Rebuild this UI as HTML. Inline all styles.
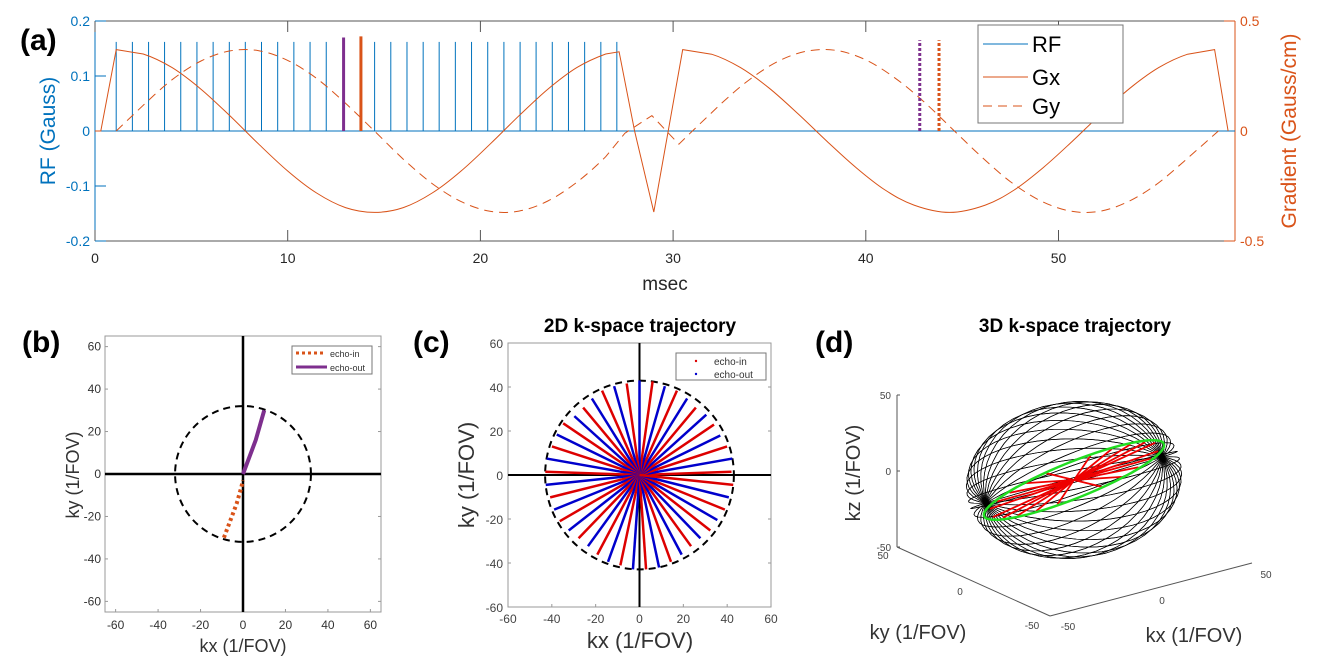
<!DOCTYPE html>
<html><head><meta charset="utf-8"><style>
html,body{margin:0;padding:0;background:#fff;}
svg{display:block;font-family:"Liberation Sans",sans-serif;}
</style></head><body>
<svg id="fig" width="1325" height="672" viewBox="0 0 1325 672" xmlns="http://www.w3.org/2000/svg">
<g id="pa"></g>
<g id="pb"></g>
<g id="pc"></g>
<g id="pd"></g>
</svg>
<script>
// ---------- Panel (a) data ----------
const rfTimes = [1.1,1.94,2.78,3.61,4.45,5.29,6.13,6.97,7.8,8.64,9.48,10.32,11.16,12.0,14.51,15.35,16.19,17.03,17.86,18.7,19.54,20.38,21.22,22.06,22.89,23.73,24.57,25.41,26.25,27.08];
const rfAmp = 0.162;
const gxT = [0,0.3,1.1,2.5,4,5.5,7,8.5,10,11.5,13,14.5,16,17.5,19,20.5,22,23.5,25,26.5,27.2,28.0,29.0,30.5,32,33.5,35,36.5,38,39.5,41,42.5,44.35,46.2,47.7,49.2,50.7,52.2,53.7,55.2,56.7,58.1,58.8];
const gxV = [0,0,0.37,0.35,0.288,0.19,0.069,-0.06,-0.182,-0.282,-0.348,-0.37,-0.348,-0.282,-0.182,-0.06,0.069,0.19,0.288,0.35,0.36,0.0,-0.368,0.37,0.349,0.288,0.194,0.077,-0.048,-0.167,-0.268,-0.337,-0.37,-0.337,-0.268,-0.167,-0.048,0.077,0.194,0.288,0.349,0.37,0];
const gyT = [1.1,2.5,4,5.5,7,8.5,10,11.5,13,14.5,16,17.5,19,20.5,22,23.5,25,26.5,27.5,28.9,30.3,31,32.5,34,35.5,37,38.5,40,41.5,43,44.6,46,47.5,49,50.5,52,53.5,55,56.5,58.3];
const gyV = [0,0.117,0.233,0.318,0.364,0.365,0.321,0.239,0.126,0,-0.128,-0.239,-0.321,-0.365,-0.364,-0.318,-0.233,-0.117,-0.01,0.07,-0.06,0,0.125,0.236,0.319,0.364,0.366,0.323,0.242,0.134,0,-0.117,-0.23,-0.314,-0.362,-0.367,-0.326,-0.248,-0.139,0];
const markT = [12.9,13.8,42.8,43.8];
const markV = [0.170,0.172,0.165,0.165];
const xTicksA = [0,10,20,30,40,50];
const rfTicks = [-0.2,-0.1,0,0.1,0.2];
const gTicks = [-0.5,0,0.5];

// ---------- Panel (b) data ----------
const bTicks = [-60,-40,-20,0,20,40,60];
const bCircleR = 32;
const echoOutX = [0,3,6,8,10];
const echoOutY = [0,8,16,23,30];
const echoInX = [-9,-6,-3,-1,0];
const echoInY = [-30,-22,-14,-7,-3];

// ---------- Panel (c) data ----------
const cTicks = [-60,-40,-20,0,20,40,60];
const cCircleR = 43;
const spokeAngles = [2,10,18,26,34,42,50,58,66,74,82,90,98,106,114,122,130,138,146,154,162,170,178,186,194,202,210,218,226,234,242,250,258,266,274,282,290,298,306,314,322,330,338,346,354];
const spokeR = [42,43,42,41,41,41,40,41,42,42,43,43,42,42,42,41,40,40,42,42,42,43,43,43,42,42,42,41,40,40,41,42,42,43,43,43,42,41,40,40,41,41,42,42,43];

// ---------- Panel (d) data ----------
const meridianPhi = [0,10,20,30,40,50,60,70,80,90,100,110,120,130,140,150,160,170,180,190,200,210,220,230,240,250,260,270,280,290,300,310,320,330,340,350];
const redT = [15,30,45,60,75,105,120,135,150,165,195,210,225,240,255,285,300,315,330,345];
const dTicksZ = [-50,0,50];

const NS='http://www.w3.org/2000/svg';
function el(parent,tag,attrs,text){const e=document.createElementNS(NS,tag);for(const k in attrs)e.setAttribute(k,attrs[k]);if(text!==undefined)e.textContent=text;parent.appendChild(e);return e;}
function smoothPath(P,breaks){
 let d='M'+P[0][0].toFixed(1)+','+P[0][1].toFixed(1);
 for(let i=0;i<P.length-1;i++){
  const p1=P[i],p2=P[i+1];
  if(breaks.includes(i)||breaks.includes(i+1)){d+=' L'+p2[0].toFixed(1)+','+p2[1].toFixed(1);continue;}
  const p0=P[i-1]||p1,p3=P[i+2]||p2;
  const c1=[p1[0]+(p2[0]-p0[0])/6,p1[1]+(p2[1]-p0[1])/6];
  const c2=[p2[0]-(p3[0]-p1[0])/6,p2[1]-(p3[1]-p1[1])/6];
  d+=' C'+c1[0].toFixed(1)+','+c1[1].toFixed(1)+' '+c2[0].toFixed(1)+','+c2[1].toFixed(1)+' '+p2[0].toFixed(1)+','+p2[1].toFixed(1);
 }
 return d;
}

// ===== Panel A =====
(function(){
const g=document.getElementById('pa');
const X=t=>95+t*19.27, Yrf=v=>131-v*550, Yg=v=>131-v*220;
const blue='#0072BD', orng='#D95319', purp='#7E2F8E';
let e=el(g,'line',{x1:95,y1:21,x2:1235,y2:21,stroke:'#555','stroke-width':1});

e=el(g,'line',{x1:95,y1:241,x2:1235,y2:241,stroke:'#555','stroke-width':1});

e=el(g,'line',{x1:95,y1:21,x2:95,y2:241,stroke:blue,'stroke-width':1});

e=el(g,'line',{x1:1235,y1:21,x2:1235,y2:241,stroke:orng,'stroke-width':1});

xTicksA.forEach(t=>{
 el(g,'line',{x1:X(t),y1:241,x2:X(t),y2:230,stroke:'#555'});
 el(g,'line',{x1:X(t),y1:21,x2:X(t),y2:32,stroke:'#555'});
 e=el(g,'text',{x:X(t),y:263,'font-size':14,'text-anchor':'middle',fill:'#262626'},String(t));
 
});
rfTicks.forEach(v=>{
 el(g,'line',{x1:95,y1:Yrf(v),x2:106,y2:Yrf(v),stroke:blue});
 e=el(g,'text',{x:90,y:Yrf(v)+5,'font-size':14,'text-anchor':'end',fill:blue},String(v));
 
});
gTicks.forEach(v=>{
 el(g,'line',{x1:1235,y1:Yg(v),x2:1224,y2:Yg(v),stroke:orng});
 e=el(g,'text',{x:1240,y:Yg(v)+5,'font-size':14,fill:orng},String(v));
 
});
e=el(g,'text',{x:0,y:0,'font-size':21,fill:blue,'text-anchor':'middle',transform:'translate(55,131) rotate(-90)'},'RF (Gauss)');

e=el(g,'text',{x:0,y:0,'font-size':21,fill:orng,'text-anchor':'middle',transform:'translate(1296,131) rotate(-90)'},'Gradient (Gauss/cm)');

e=el(g,'text',{x:665,y:290,'font-size':19,'text-anchor':'middle',fill:'#262626'},'msec');

e=el(g,'text',{x:20,y:50,'font-size':30,'font-weight':'bold',fill:'#000'},'(a)');

e=el(g,'line',{x1:X(0),y1:Yrf(0),x2:1235,y2:Yrf(0),stroke:blue,'stroke-width':1});

rfTimes.forEach(t=>{
 e=el(g,'line',{x1:X(t),y1:Yrf(0),x2:X(t),y2:Yrf(rfAmp),stroke:blue,'stroke-width':1});
 
});
const gxP=gxT.map((t,i)=>[X(t),Yg(gxV[i])]);
e=el(g,'path',{d:smoothPath(gxP,[0,1,2,20,21,22,23,41,42]),fill:'none',stroke:orng,'stroke-width':1});

const gyP=gyT.map((t,i)=>[X(t),Yg(gyV[i])]);
e=el(g,'path',{d:smoothPath(gyP,[0,18,19,20,21,39]),fill:'none',stroke:orng,'stroke-width':1,'stroke-dasharray':'9,6'});

const mc=[purp,orng,purp,orng], md=['none','none','3,2','3,2'];
markT.forEach((t,i)=>{
 e=el(g,'line',{x1:X(t),y1:Yrf(0),x2:X(t),y2:Yrf(markV[i]),stroke:mc[i],'stroke-width':3,'stroke-dasharray':md[i]});
 
});
const lg=el(g,'g',{});
el(lg,'rect',{x:978,y:25,width:145,height:98,fill:'#fff',stroke:'#777'});
[['RF',blue,'none',44],['Gx',orng,'none',77],['Gy',orng,'9,6',106]].forEach(r=>{
 el(lg,'line',{x1:983,y1:r[3],x2:1028,y2:r[3],stroke:r[1],'stroke-dasharray':r[2]});
 const t=el(lg,'text',{x:1032,y:r[3]+8,'font-size':22,fill:'#000'},r[0]);
 
});
})();

// ===== Panel B =====
(function(){
const g=document.getElementById('pb');
const X=v=>243+v*2.123, Y=v=>474-v*2.123;
let e=el(g,'rect',{x:105,y:336,width:276,height:276,fill:'none',stroke:'#999'});

bTicks.forEach(v=>{
 el(g,'line',{x1:X(v),y1:612,x2:X(v),y2:609,stroke:'#999'});
 el(g,'line',{x1:105,y1:Y(v),x2:108,y2:Y(v),stroke:'#999'});
 el(g,'line',{x1:381,y1:Y(v),x2:378,y2:Y(v),stroke:'#999'});
 e=el(g,'text',{x:X(v),y:629,'font-size':12,'text-anchor':'middle',fill:'#333'},String(v));
 
 e=el(g,'text',{x:101,y:Y(v)+4,'font-size':12,'text-anchor':'end',fill:'#333'},String(v));
 
});
el(g,'line',{x1:105,y1:Y(0),x2:381,y2:Y(0),stroke:'#000','stroke-width':2.5});
el(g,'line',{x1:X(0),y1:336,x2:X(0),y2:612,stroke:'#000','stroke-width':2.5});
e=el(g,'circle',{cx:X(0),cy:Y(0),r:bCircleR*2.123,fill:'none',stroke:'#000','stroke-width':2,'stroke-dasharray':'7,5'});

e=el(g,'polyline',{points:echoOutX.map((x,i)=>X(x)+','+Y(echoOutY[i])).join(' '),fill:'none',stroke:'#7E2F8E','stroke-width':4});

e=el(g,'polyline',{points:echoInX.map((x,i)=>X(x)+','+Y(echoInY[i])).join(' '),fill:'none',stroke:'#D95319','stroke-width':4,'stroke-dasharray':'3,3'});

const lg=el(g,'g',{});
el(lg,'rect',{x:292,y:346,width:80,height:28,fill:'#fff',stroke:'#777'});
el(lg,'line',{x1:296,y1:353,x2:325,y2:353,stroke:'#D95319','stroke-width':3,'stroke-dasharray':'3,3'});
el(lg,'line',{x1:296,y1:367,x2:327,y2:367,stroke:'#7E2F8E','stroke-width':3});
el(lg,'text',{x:330,y:357,'font-size':9,fill:'#333'},'echo-in');
el(lg,'text',{x:330,y:371,'font-size':9,fill:'#333'},'echo-out');
e=el(g,'text',{x:0,y:0,'font-size':18,'text-anchor':'middle',fill:'#333',transform:'translate(79,475) rotate(-90)'},'ky (1/FOV)');

e=el(g,'text',{x:243,y:652,'font-size':18,'text-anchor':'middle',fill:'#333'},'kx (1/FOV)');

e=el(g,'text',{x:22,y:352,'font-size':30,'font-weight':'bold',fill:'#000'},'(b)');

})();

// ===== Panel C =====
(function(){
const g=document.getElementById('pc');
const X=v=>639.5+v*2.192, Y=v=>475-v*2.2;
let e=el(g,'rect',{x:508,y:343,width:263,height:264,fill:'none',stroke:'#999'});

cTicks.forEach(v=>{
 el(g,'line',{x1:X(v),y1:607,x2:X(v),y2:604,stroke:'#999'});
 el(g,'line',{x1:508,y1:Y(v),x2:511,y2:Y(v),stroke:'#999'});
 el(g,'line',{x1:771,y1:Y(v),x2:768,y2:Y(v),stroke:'#999'});
 e=el(g,'text',{x:X(v),y:623,'font-size':12,'text-anchor':'middle',fill:'#444'},String(v));
 
 e=el(g,'text',{x:503,y:Y(v)+5,'font-size':12,'text-anchor':'end',fill:'#444'},String(v));
 
});
el(g,'line',{x1:508,y1:Y(0),x2:771,y2:Y(0),stroke:'#000','stroke-width':2});
el(g,'line',{x1:X(0),y1:343,x2:X(0),y2:607,stroke:'#000','stroke-width':2});
e=el(g,'circle',{cx:X(0),cy:Y(0),r:cCircleR*2.195,fill:'none',stroke:'#000','stroke-width':2,'stroke-dasharray':'7,5'});

spokeAngles.forEach((a,i)=>{
 const r=a*Math.PI/180, R=spokeR[i];
 e=el(g,'line',{x1:X(0),y1:Y(0),x2:X(R*Math.cos(r)),y2:Y(R*Math.sin(r)),stroke:i%2?'#0000CC':'#DD0000','stroke-width':2.5});
 
});
const lg=el(g,'g',{});
el(lg,'rect',{x:676,y:353,width:90,height:27,fill:'#fff',stroke:'#777'});
el(lg,'circle',{cx:696,cy:361,r:1.2,fill:'#DD0000'});
el(lg,'circle',{cx:696,cy:374,r:1.2,fill:'#0000CC'});
el(lg,'text',{x:714,y:365,'font-size':10,fill:'#333'},'echo-in');
el(lg,'text',{x:714,y:378,'font-size':10,fill:'#333'},'echo-out');
e=el(g,'text',{x:640,y:332,'font-size':19,'font-weight':'bold','text-anchor':'middle',fill:'#000'},'2D k-space trajectory');

e=el(g,'text',{x:0,y:0,'font-size':22,'text-anchor':'middle',fill:'#333',transform:'translate(474,475) rotate(-90)'},'ky (1/FOV)');

e=el(g,'text',{x:640,y:648,'font-size':22,'text-anchor':'middle',fill:'#333'},'kx (1/FOV)');

e=el(g,'text',{x:413,y:352,'font-size':30,'font-weight':'bold',fill:'#000'},'(c)');

})();

// ===== Panel D =====
(function(){
const g=document.getElementById('pd');
const C=[1074,480], U=[88,-23], V=[0,-72], W=[62,22];
const GU=[90,-36], Gm=[-6,-17];
const gray='#555';
el(g,'line',{x1:897,y1:395,x2:897,y2:547,stroke:gray});
el(g,'line',{x1:897,y1:547,x2:1050,y2:616,stroke:gray});
el(g,'line',{x1:1050,y1:616,x2:1252,y2:563,stroke:gray});
const zY=v=>471-v*1.52;
dTicksZ.forEach(v=>{
 el(g,'line',{x1:897,y1:zY(v),x2:900,y2:zY(v),stroke:gray});
 const t=el(g,'text',{x:891,y:zY(v)+4,'font-size':10,'text-anchor':'end',fill:'#444'},String(v));
 
});
[[50,883,559],[0,960,595],[-50,1032,629]].forEach(a=>{const t=el(g,'text',{x:a[1],y:a[2],'font-size':10,'text-anchor':'middle',fill:'#444'},String(a[0]));});
[[-50,1068,630],[0,1162,604],[50,1266,578]].forEach(a=>{const t=el(g,'text',{x:a[1],y:a[2],'font-size':10,'text-anchor':'middle',fill:'#444'},String(a[0]));});
meridianPhi.forEach(p=>{
 const ph=p*Math.PI/180, M=[V[0]*Math.cos(ph)+W[0]*Math.sin(ph), V[1]*Math.cos(ph)+W[1]*Math.sin(ph)];
 const pts=[];for(let k=0;k<=48;k++){const t=k/48*2*Math.PI;pts.push((C[0]+U[0]*Math.cos(t)+M[0]*Math.sin(t)).toFixed(1)+','+(C[1]+U[1]*Math.cos(t)+M[1]*Math.sin(t)).toFixed(1));}
 const e=el(g,'polyline',{points:pts.join(' '),fill:'none',stroke:'#000','stroke-width':0.7});
 
});
redT.forEach(d=>{
 const t=d*Math.PI/180;
 const e2=el(g,'line',{x1:C[0],y1:C[1],x2:C[0]+GU[0]*0.95*Math.cos(t)+Gm[0]*0.95*Math.sin(t),y2:C[1]+GU[1]*0.95*Math.cos(t)+Gm[1]*0.95*Math.sin(t),stroke:'#EE0000','stroke-width':1.8});
 
});
const gp=[];for(let k=0;k<=60;k++){const t=k/60*2*Math.PI;gp.push((C[0]+GU[0]*Math.cos(t)+Gm[0]*Math.sin(t)).toFixed(1)+','+(C[1]+GU[1]*Math.cos(t)+Gm[1]*Math.sin(t)).toFixed(1));}
let e=el(g,'polyline',{points:gp.join(' '),fill:'none',stroke:'#22DD22','stroke-width':2.5});

e=el(g,'text',{x:1075,y:332,'font-size':19,'font-weight':'bold','text-anchor':'middle',fill:'#000'},'3D k-space trajectory');

e=el(g,'text',{x:0,y:0,'font-size':20,'text-anchor':'middle',fill:'#333',transform:'translate(860,473) rotate(-90)'},'kz (1/FOV)');

e=el(g,'text',{x:918,y:639,'font-size':20,'text-anchor':'middle',fill:'#333'},'ky (1/FOV)');

e=el(g,'text',{x:1194,y:642,'font-size':20,'text-anchor':'middle',fill:'#333'},'kx (1/FOV)');

e=el(g,'text',{x:815,y:352,'font-size':30,'font-weight':'bold',fill:'#000'},'(d)');

})();
</script>
</body></html>
